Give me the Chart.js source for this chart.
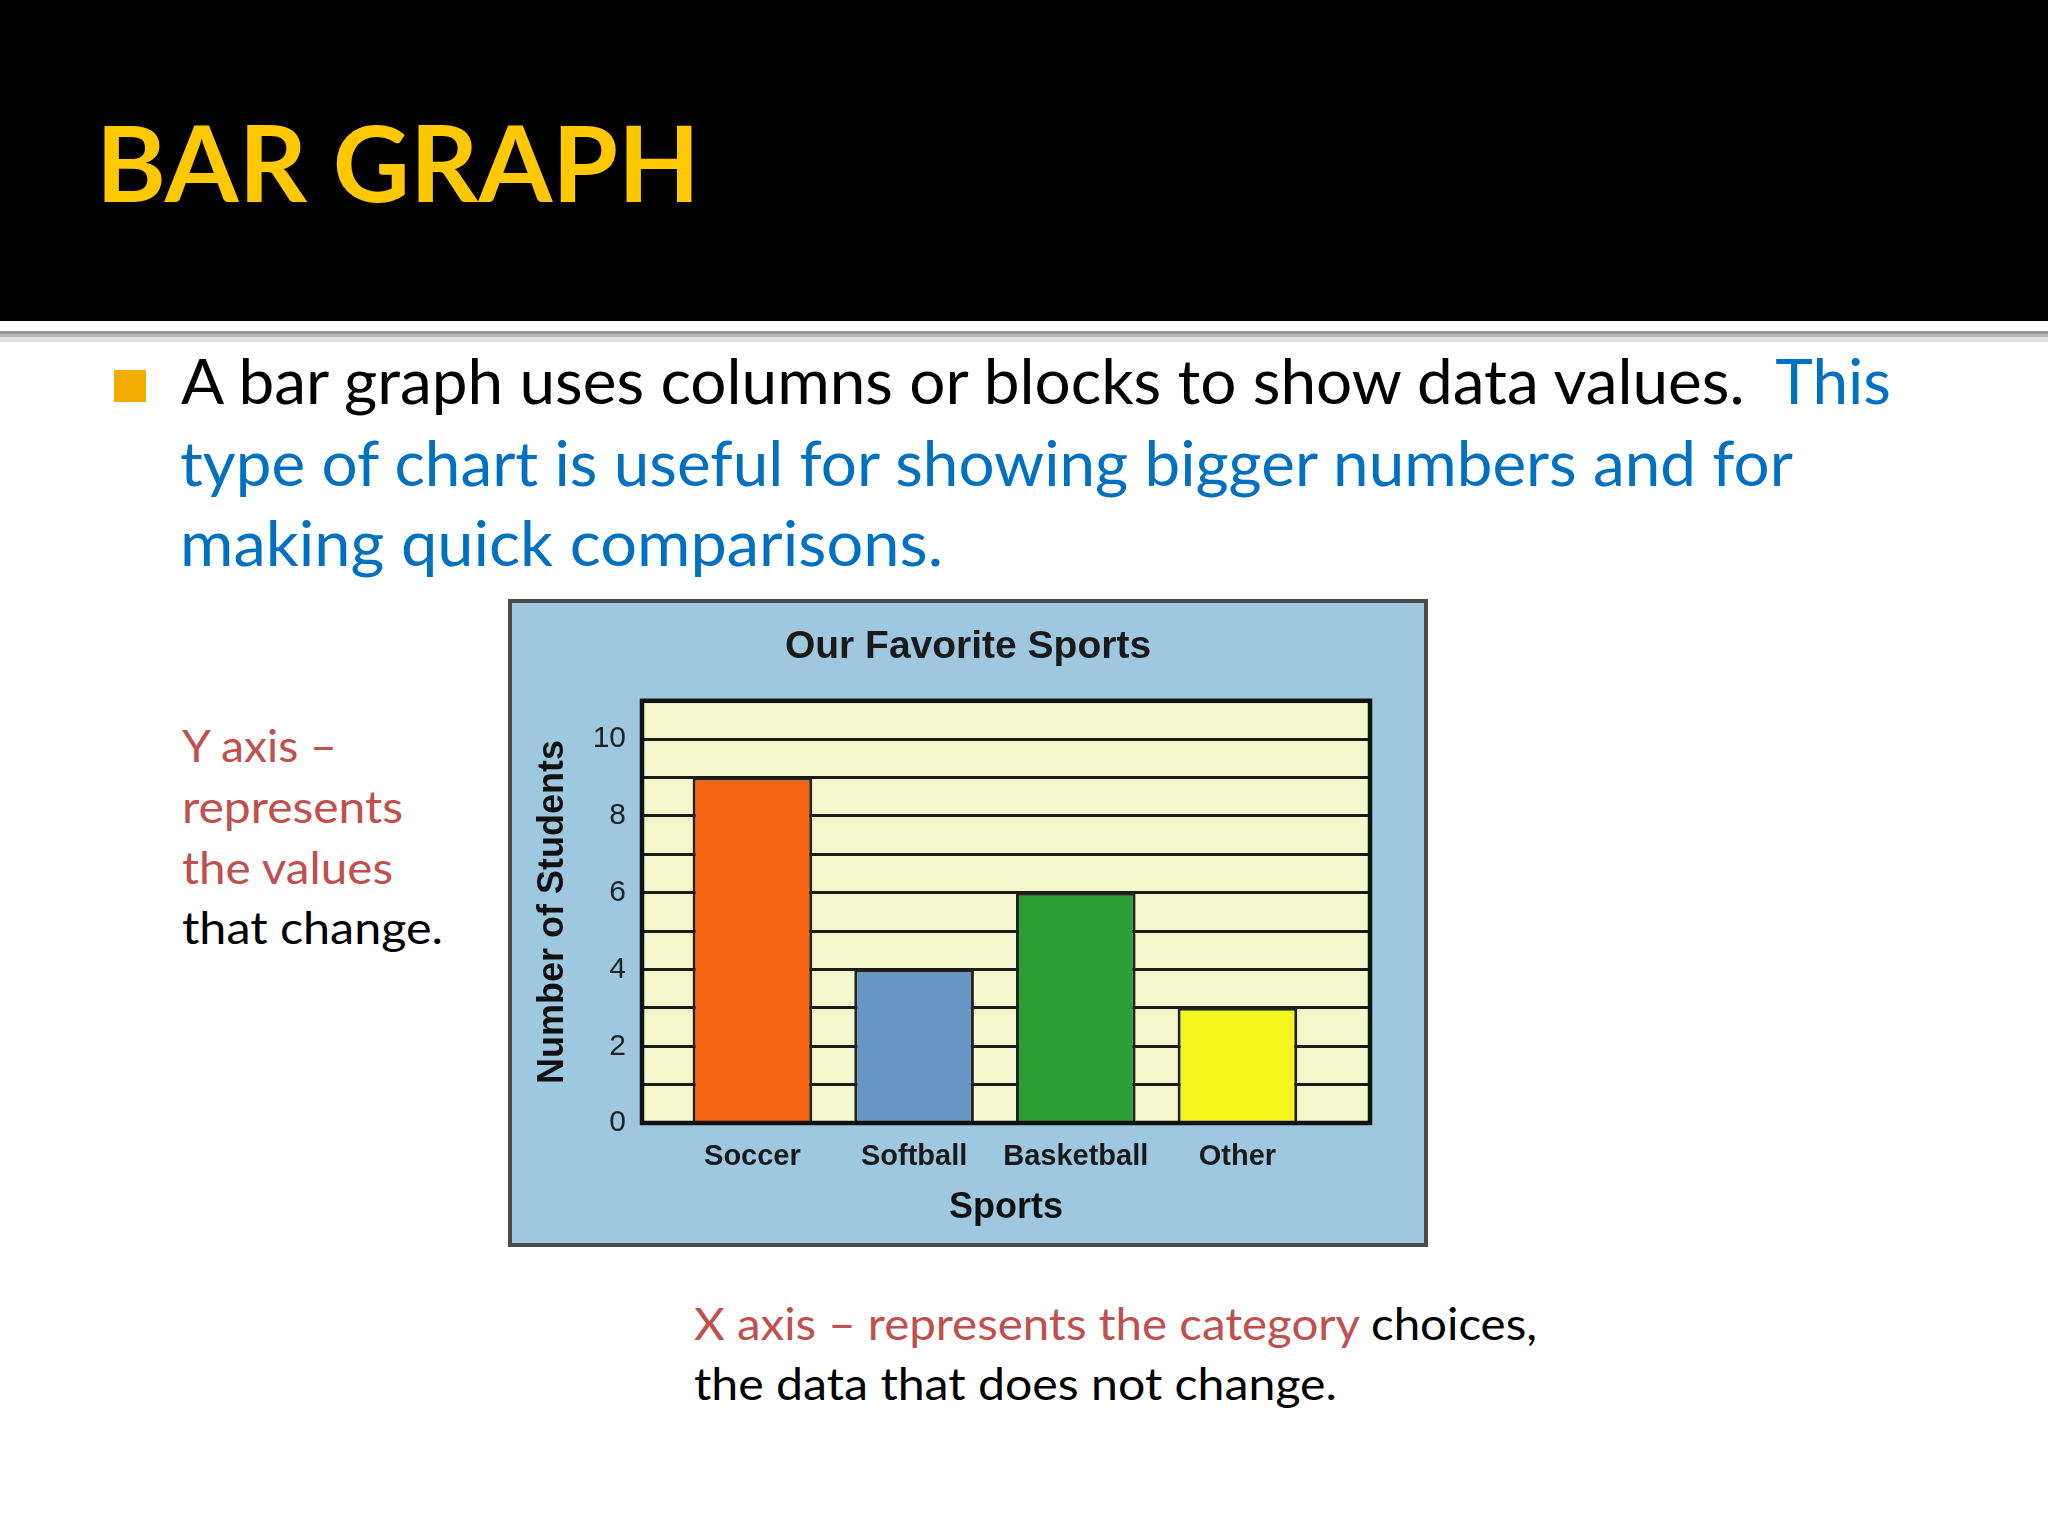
<!DOCTYPE html>
<html>
<head>
<meta charset="utf-8">
<script src="https://cdn.jsdelivr.net/npm/chart.js@4.4.0/dist/chart.umd.min.js"></script>
<style>
  html, body { margin: 0; padding: 0; background: #ffffff; width: 2048px; height: 1536px; overflow: hidden; }
  #slide { position: absolute; left: 0; top: 0; }
  #box { position: absolute; left: 508px; top: 599px; width: 912px; height: 640px; border: 4px solid #4a4a4a; background: #9DC8E0; }
  #chart { display: block; }
  text { white-space: pre; }
</style>
</head>
<body>
<svg id="slide" width="2048" height="1536" xmlns="http://www.w3.org/2000/svg">
  <rect x="0" y="0" width="2048" height="321" fill="#000000"/>
  <rect x="0" y="331" width="2048" height="3" fill="#9a9a9a"/>
  <rect x="0" y="334" width="2048" height="3" fill="#b8b8b8"/>
  <rect x="0" y="337" width="2048" height="5" fill="#e2e2e2"/>
  <text x="96" y="202" font-family="Lato, 'Open Sans', sans-serif" font-weight="700" font-size="106" fill="#FFC800" textLength="604" lengthAdjust="spacingAndGlyphs">BAR GRAPH</text>
  <rect x="114" y="370" width="32" height="32" fill="#F2AD00"/>
  <g font-family="Lato, 'Open Sans', sans-serif" font-size="61">
    <text x="181" y="404" textLength="1710" lengthAdjust="spacingAndGlyphs"><tspan fill="#000000">A bar graph uses columns or blocks to show data values.  </tspan><tspan fill="#0070C0">This</tspan></text>
    <text x="180" y="486" fill="#0070C0" textLength="1613" lengthAdjust="spacingAndGlyphs">type of chart is useful for showing bigger numbers and for</text>
    <text x="180" y="566" fill="#0070C0" textLength="763" lengthAdjust="spacingAndGlyphs">making quick comparisons.</text>
  </g>
  <g font-family="Lato, 'Open Sans', sans-serif" font-size="45">
    <text x="182" y="762" fill="#C0504D" textLength="155" lengthAdjust="spacingAndGlyphs">Y axis –</text>
    <text x="182" y="823" fill="#C0504D" textLength="221" lengthAdjust="spacingAndGlyphs">represents</text>
    <text x="182" y="884" fill="#C0504D" textLength="211" lengthAdjust="spacingAndGlyphs">the values</text>
    <text x="182" y="944" fill="#000000" textLength="261" lengthAdjust="spacingAndGlyphs">that change.</text>
    <text x="694" y="1340" textLength="843" lengthAdjust="spacingAndGlyphs"><tspan fill="#C0504D">X axis – represents the category </tspan><tspan fill="#000000">choices,</tspan></text>
    <text x="694" y="1400" fill="#000000" textLength="643" lengthAdjust="spacingAndGlyphs">the data that does not change.</text>
  </g>
</svg>
<div id="box"><canvas id="chart" width="912" height="640"></canvas></div>
<script>
const chartTitle = 'Our Favorite Sports';
const xAxisTitle = 'Sports';
const yAxisTitle = 'Number of Students';
const categories = ['Soccer', 'Softball', 'Basketball', 'Other'];
const students = [9, 4, 6, 3];
const barColors = ['#F66512', '#6596C6', '#2E9F37', '#F5F51E'];
const yTickLabels = ['0', '2', '4', '6', '8', '10'];
const yMin = 0;
const yMax = 11;
const xMin = -0.683;
const xMax = 3.82;

const backdrop = {
  id: 'backdrop',
  beforeDraw(chart) {
    const { ctx, width, height, chartArea: a } = chart;
    ctx.save();
    ctx.fillStyle = '#9DC8E0';
    ctx.fillRect(0, 0, width, height);
    ctx.fillStyle = '#F4F6CB';
    ctx.fillRect(a.left, a.top, a.right - a.left, a.bottom - a.top);
    ctx.restore();
  },
  afterDatasetsDraw(chart) {
    const { ctx, chartArea: a } = chart;
    ctx.save();
    ctx.strokeStyle = '#111111';
    ctx.lineWidth = 4.5;
    ctx.strokeRect(a.left, a.top, a.right - a.left, a.bottom - a.top);
    ctx.restore();
  }
};

Chart.defaults.font.family = "'Liberation Sans', Arial, sans-serif";
Chart.defaults.color = '#1a1a1a';

new Chart(document.getElementById('chart'), {
  type: 'bar',
  data: {
    datasets: [{
      data: students.map((v, i) => ({ x: i, y: v })),
      backgroundColor: barColors,
      borderColor: '#222222',
      borderWidth: 3,
      barPercentage: 0.74,
      categoryPercentage: 1.0
    }]
  },
  options: {
    responsive: false,
    animation: false,
    devicePixelRatio: 1,
    layout: { padding: 0 },
    plugins: {
      legend: { display: false },
      tooltip: { enabled: false },
      title: {
        display: true,
        text: chartTitle,
        color: '#1a1a1a',
        font: { size: 39, weight: 'bold' },
        padding: { top: 21, bottom: 30 }
      }
    },
    scales: {
      x: {
        type: 'linear',
        min: xMin,
        max: xMax,
        offset: false,
        grid: { display: false, offset: false, drawTicks: false },
        border: { display: false },
        afterBuildTicks(s) { s.ticks = categories.map((c, i) => ({ value: i })); },
        afterFit(s) { s.height = 120; },
        ticks: {
          autoSkip: false,
          maxRotation: 0,
          padding: 17,
          color: '#1a1a1a',
          font: { size: 29, weight: 'bold' },
          callback: (v) => categories[v]
        },
        title: {
          display: true,
          text: xAxisTitle,
          color: '#111111',
          font: { size: 36, weight: 'bold' },
          padding: { top: 0, bottom: 13 }
        }
      },
      y: {
        min: yMin,
        max: yMax,
        grid: { color: '#1a1a1a', lineWidth: 3, drawTicks: false },
        border: { display: false },
        afterFit(s) { s.width = 130; },
        ticks: {
          stepSize: 1,
          autoSkip: false,
          padding: 16,
          color: '#222222',
          font: { size: 30 },
          callback: (v) => (yTickLabels.includes(String(v)) ? String(v) : '')
        },
        title: {
          display: true,
          text: yAxisTitle,
          color: '#111111',
          font: { size: 36, weight: 'bold' },
          padding: { top: 19, bottom: 0 }
        }
      },
      y2: {
        position: 'right',
        display: true,
        grid: { display: false, drawTicks: false },
        border: { display: false },
        ticks: { display: false },
        afterFit(s) { s.width = 54; }
      }
    }
  },
  plugins: [backdrop]
});
</script>
</body>
</html>
